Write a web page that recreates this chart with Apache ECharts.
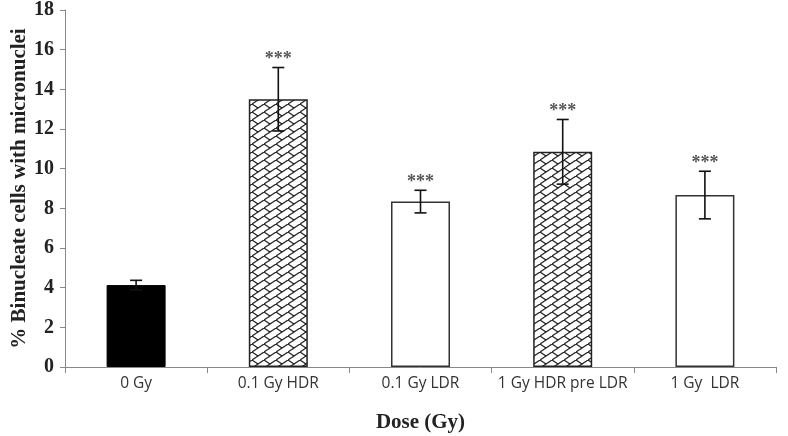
<!DOCTYPE html>
<html>
<head>
<meta charset="utf-8">
<script src="https://cdn.jsdelivr.net/npm/echarts@6/dist/echarts.min.js"></script>
<style>html,body{margin:0;padding:0;background:#fff;}#c{width:788px;height:436px;}</style>
</head>
<body>
<div id="c"></div>
<script>
var categories = ['0 Gy', '0.1 Gy HDR', '0.1 Gy LDR', '1 Gy HDR pre LDR', '1 Gy  LDR'];
var means = [4.13, 13.5, 8.34, 10.85, 8.67];
var errors = [0.24, 1.6, 0.57, 1.63, 1.2];
var marks = ['', '***', '***', '***', '***'];
var fills = ['solid', 'hatch', 'white', 'hatch', 'white'];
var yTicks = [0, 2, 4, 6, 8, 10, 12, 14, 16, 18];

function makeHatch() {
  var w = 12, h = 8;
  var c = document.createElement('canvas');
  c.width = w; c.height = h;
  var g = c.getContext('2d');
  g.fillStyle = '#fff'; g.fillRect(0, 0, w, h);
  g.strokeStyle = '#222'; g.lineWidth = 1.2;
  g.beginPath();
  g.moveTo(-w, 2 * h); g.lineTo(2 * w, -h);
  g.moveTo(0, 0); g.lineTo(w / 2, h / 2);
  g.moveTo(w, 0); g.lineTo(w * 1.5, h * 1.5);
  g.moveTo(0, h); g.lineTo(w / 2, h * 1.5);
  g.moveTo(-w / 2, h / 2); g.lineTo(0, h);
  g.moveTo(w / 2, -h / 2); g.lineTo(w, 0);
  g.stroke();
  return c;
}
var hatch = makeHatch();

var barData = means.map(function (v, i) {
  var f = fills[i];
  var style;
  if (f === 'solid') style = { color: '#000', borderColor: '#000', borderWidth: 1 };
  else if (f === 'hatch') style = { color: { image: hatch, repeat: 'repeat' }, borderColor: '#222', borderWidth: 1.5 };
  else style = { color: '#fff', borderColor: '#333', borderWidth: 1.5 };
  return { value: v, itemStyle: style };
});

var errData = means.map(function (v, i) { return [i, v - errors[i], v + errors[i], marks[i]]; });

var chart = echarts.init(document.getElementById('c'), null, { renderer: 'canvas' });
chart.setOption({
  animation: false,
  backgroundColor: '#fff',
  grid: { left: 65, right: 12, top: 10, bottom: 69, containLabel: false, outerBoundsMode: 'none' },
  xAxis: {
    type: 'category',
    data: categories,
    name: 'Dose (Gy)',
    nameLocation: 'middle',
    nameGap: 45,
    nameMoveOverlap: false,
    nameTextStyle: { fontFamily: 'Liberation Serif', fontWeight: 'bold', fontSize: 21, color: '#222' },
    axisLine: { lineStyle: { color: '#888', width: 1 } },
    axisTick: { show: true, interval: 0, alignWithLabel: false, length: 6, lineStyle: { color: '#888' } },
    axisLabel: { interval: 0, hideOverlap: false, fontFamily: 'Open Sans', fontSize: 15.5, color: '#333', margin: 9 }
  },
  yAxis: {
    type: 'value',
    min: 0, max: 18, interval: 2,
    name: '% Binucleate cells with micronuclei',
    nameLocation: 'middle',
    nameGap: 35,
    nameMoveOverlap: false,
    nameTextStyle: { fontFamily: 'Liberation Serif', fontWeight: 'bold', fontSize: 21, color: '#222' },
    axisLine: { show: true, lineStyle: { color: '#888', width: 1 } },
    axisTick: { show: true, length: 5, lineStyle: { color: '#888' } },
    splitLine: { show: false },
    axisLabel: {
      fontFamily: 'Liberation Serif', fontWeight: 'bold', fontSize: 20, color: '#222', margin: 11,
      formatter: function (v) { return yTicks.indexOf(v) >= 0 ? String(v) : ''; }
    }
  },
  series: [
    {
      type: 'bar',
      data: barData,
      barWidth: 59
    },
    {
      type: 'custom',
      data: errData,
      z: 10,
      renderItem: function (params, api) {
        var x = api.value(0);
        var lo = api.coord([x, api.value(1)]);
        var hi = api.coord([x, api.value(2)]);
        var cap = 6;
        var st = { stroke: '#111', lineWidth: 1.6 };
        var children = [
          { type: 'line', shape: { x1: lo[0], y1: lo[1], x2: hi[0], y2: hi[1] }, style: st },
          { type: 'line', shape: { x1: hi[0] - cap, y1: hi[1], x2: hi[0] + cap, y2: hi[1] }, style: st },
          { type: 'line', shape: { x1: lo[0] - cap, y1: lo[1], x2: lo[0] + cap, y2: lo[1] }, style: st }
        ];
        var m = api.value(3);
        if (m) {
          children.push({
            type: 'text',
            style: {
              text: m, x: hi[0], y: hi[1] + 1, align: 'center', verticalAlign: 'bottom',
              fill: '#555', font: 'bold 18px "Liberation Serif"'
            }
          });
        }
        return { type: 'group', children: children };
      }
    }
  ]
});
</script>
</body>
</html>
